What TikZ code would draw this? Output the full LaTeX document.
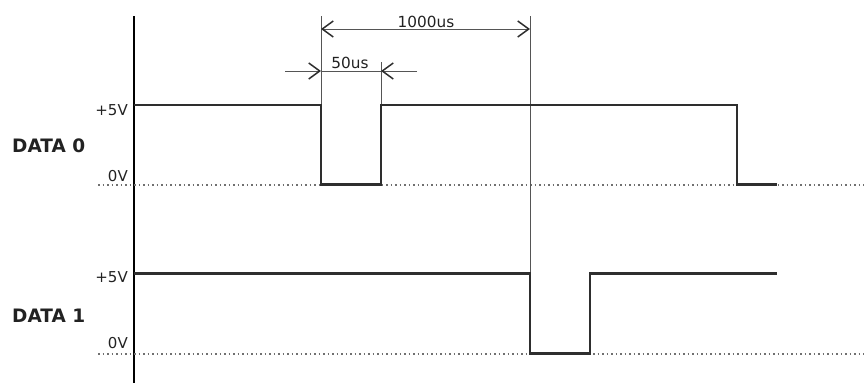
\documentclass[tikz,border=0pt]{standalone}
\usepackage{fontspec}
\setmainfont{DejaVu Sans}
\usetikzlibrary{arrows.meta}
\definecolor{sig}{HTML}{2E2E2E}
\definecolor{thin}{HTML}{555555}
\definecolor{dots}{HTML}{707070}
\definecolor{txt}{HTML}{222222}
\tikzset{
  sigline/.style={draw=sig, line width=2.4pt, line join=miter},
  guide/.style={draw=thin, line width=1pt},
  axisline/.style={draw=black, line width=1.4pt},
  zeroline/.style={draw=dots, line width=2pt, dash pattern=on 1.8pt off 2.7pt},
  dimline/.style={draw=thin, line width=1pt},
  barb/.style={-{Straight Barb[length=11pt,width=16pt,line width=1.5pt,color=sig]}},
  lvl/.style={font=\fontsize{15}{15}\selectfont, text=txt, inner sep=0pt, anchor=base east},
  dimtxt/.style={font=\fontsize{15.3}{15}\selectfont, text=txt, inner sep=0pt, anchor=base},
  sigtitle/.style={font=\bfseries\fontsize{18.5}{18}\selectfont, text=txt, inner sep=0pt, anchor=base west}
}
\begin{document}
\begin{tikzpicture}[x=1pt,y=-1pt]
\useasboundingbox (0,0) rectangle (864,383);
% axis
\coordinate (axT) at (134,16);
\coordinate (axB) at (134,383);
\draw[axisline] (axT) -- (axB);
% zero lines
\coordinate (z0a) at (98,184.5); \coordinate (z0b) at (864,184.5);
\coordinate (z1a) at (98,353.5); \coordinate (z1b) at (864,353.5);
\draw[zeroline] (z0a) -- (z0b);
\draw[zeroline] (z1a) -- (z1b);
% guides
\coordinate (g1t) at (321,16);  \coordinate (g1b) at (321,105);
\coordinate (g2t) at (381,62);  \coordinate (g2b) at (381,105);
\coordinate (g3t) at (530,16);  \coordinate (g3b) at (530,273.5);
\draw[guide] (g1t) -- (g1b);
\draw[guide] (g2t) -- (g2b);
\draw[guide] (g3t) -- (g3b);
% DATA 0 waveform
\coordinate (a0) at (134,105);
\coordinate (a1) at (321,105);
\coordinate (a2) at (321,184.5);
\coordinate (a3) at (381,184.5);
\coordinate (a4) at (381,105);
\coordinate (a5) at (737,105);
\coordinate (a6) at (737,184.5);
\coordinate (a7) at (777,184.5);
\draw[sigline] (a0) -- (a1) -- (a2) -- (a3) -- (a4) -- (a5) -- (a6) -- (a7);
% DATA 1 waveform
\coordinate (b0) at (134,273.5);
\coordinate (b1) at (530,273.5);
\coordinate (b2) at (530,353.5);
\coordinate (b3) at (590,353.5);
\coordinate (b4) at (590,273.5);
\coordinate (b5) at (777,273.5);
\draw[sigline] (b0) -- (b1) -- (b2) -- (b3) -- (b4) -- (b5);
% 1000us dimension
\coordinate (d1l) at (321,29); \coordinate (d1r) at (530,29);
\coordinate (d1m) at (425.5,29);
\draw[dimline,barb] (d1m) -- (d1l);
\draw[dimline,barb] (d1m) -- (d1r);
\node[dimtxt] (t1000) at (426,27) {1000us};
% 50us dimension
\coordinate (d2a) at (285,71); \coordinate (d2b) at (321,71);
\coordinate (d2c) at (417,71); \coordinate (d2d) at (381,71);
\draw[dimline,barb] (d2a) -- (d2b);
\draw[dimline,barb] (d2c) -- (d2d);
\draw[dimline] (d2b) -- (d2d);
\node[dimtxt] (t50) at (350,68) {50us};
% labels
\node[lvl] (p5a) at (128,115) {+5V};
\node[lvl] (z0l) at (128,181) {0V};
\node[lvl] (p5b) at (128,282) {+5V};
\node[lvl] (z1l) at (128,348) {0V};
\node[sigtitle] (n0) at (12,152) {DATA 0};
\node[sigtitle] (n1) at (12,322) {DATA 1};
\end{tikzpicture}
\end{document}
